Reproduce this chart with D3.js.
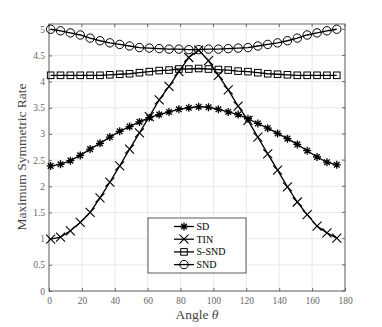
<!DOCTYPE html>
<html>
<head>
<meta charset="utf-8">
<script src="https://cdn.jsdelivr.net/npm/d3@7"></script>
<style>
  body { margin: 0; background: #fff; }
</style>
</head>
<body>
<svg id="chart" width="382" height="327"></svg>
<script>
// angles (degrees) at which each series is sampled
var angles = [1, 7, 13, 19, 25, 31, 37, 43, 49, 55, 61, 67, 73, 79, 85,
              91, 97, 103, 109, 115, 121, 127, 133, 139, 145, 151, 157, 163, 169, 175];

var sdVals = [2.39, 2.42, 2.49, 2.59, 2.71, 2.82, 2.94, 3.05, 3.14, 3.23, 3.31, 3.37, 3.42, 3.47, 3.50,
              3.52, 3.51, 3.47, 3.42, 3.37, 3.29, 3.20, 3.11, 3.01, 2.91, 2.80, 2.68, 2.56, 2.46, 2.41];
var tinVals = [0.99, 1.03, 1.15, 1.31, 1.50, 1.78, 2.08, 2.39, 2.71, 3.02, 3.33, 3.65, 3.91, 4.19, 4.46,
               4.60, 4.40, 4.12, 3.84, 3.53, 3.26, 2.94, 2.62, 2.31, 1.99, 1.70, 1.46, 1.24, 1.11, 1.01];
var ssndVals = [4.12, 4.12, 4.12, 4.12, 4.12, 4.12, 4.13, 4.14, 4.15, 4.17, 4.19, 4.21, 4.22, 4.24, 4.24,
                4.25, 4.24, 4.23, 4.22, 4.20, 4.19, 4.17, 4.15, 4.14, 4.13, 4.12, 4.12, 4.12, 4.12, 4.12];
var sndVals = [5.00, 4.97, 4.93, 4.89, 4.83, 4.78, 4.74, 4.71, 4.68, 4.65, 4.64, 4.63, 4.62, 4.62, 4.61,
               4.61, 4.62, 4.62, 4.63, 4.64, 4.65, 4.68, 4.71, 4.74, 4.78, 4.83, 4.89, 4.93, 4.97, 5.00];

var seriesNames = ['SD', 'TIN', 'S-SND', 'SND'];
var seriesMarks = ['star', 'cross', 'square', 'circle'];
var xTicks = [0, 20, 40, 60, 80, 100, 120, 140, 160, 180];
var yTicks = [0, 0.5, 1, 1.5, 2, 2.5, 3, 3.5, 4, 4.5, 5];

var FONT = '"Liberation Serif", "DejaVu Serif", serif';

var series = [sdVals, tinVals, ssndVals, sndVals].map(function(vals, i) {
	return {
		name: seriesNames[i],
		mark: seriesMarks[i],
		points: vals.map(function(v, j) { return {a: angles[j], v: v}; })
	};
});

var svg = d3.select('#chart');
var margin = {left: 49, right: 37, top: 24, bottom: 36};
var w = 382, h = 327;

var x = d3.scaleLinear().domain([0, 180]).range([margin.left, w - margin.right]);
var y = d3.scaleLinear().domain([0, 5.1]).range([h - margin.bottom, margin.top]);

// grid
var grid = svg.append('g').attr('stroke', '#e3e3e3').attr('stroke-width', 0.8);
xTicks.forEach(function(t) {
	grid.append('line').attr('x1', x(t)).attr('x2', x(t)).attr('y1', y(0)).attr('y2', y(5.1));
});
yTicks.forEach(function(t) {
	grid.append('line').attr('x1', x(0)).attr('x2', x(180)).attr('y1', y(t)).attr('y2', y(t));
});

// axes, ticks pointing inward
var xaxis = d3.axisBottom(x).tickValues(xTicks).tickSizeInner(-3).tickSizeOuter(0).tickPadding(6);
var yaxis = d3.axisLeft(y).tickValues(yTicks).tickSizeInner(-3).tickSizeOuter(0).tickPadding(4)
	.tickFormat(function(d) { return d; });

var gx = svg.append('g').attr('transform', 'translate(0,' + y(0) + ')').call(xaxis);
var gy = svg.append('g').attr('transform', 'translate(' + x(0) + ',0)').call(yaxis);
[gx, gy].forEach(function(g) {
	g.attr('font-family', FONT).attr('font-size', 9.5);
	g.select('.domain').remove();
	g.selectAll('line').attr('stroke', '#333').attr('stroke-width', 0.7);
	g.selectAll('text').attr('fill', '#666');
});

// top/right tick marks
xTicks.forEach(function(t) {
	svg.append('line').attr('x1', x(t)).attr('x2', x(t)).attr('y1', y(5.1)).attr('y2', y(5.1) + 3)
		.attr('stroke', '#333').attr('stroke-width', 0.7);
});
yTicks.forEach(function(t) {
	svg.append('line').attr('x1', x(180)).attr('x2', x(180) - 3).attr('y1', y(t)).attr('y2', y(t))
		.attr('stroke', '#333').attr('stroke-width', 0.7);
});

svg.append('rect')
	.attr('x', x(0)).attr('y', y(5.1))
	.attr('width', x(180) - x(0)).attr('height', y(0) - y(5.1))
	.attr('fill', 'none').attr('stroke', '#555').attr('stroke-width', 0.9);

// marker drawing
function drawMark(g, type, cx, cy) {
	if (type == 'circle') {
		g.append('circle').attr('cx', cx).attr('cy', cy).attr('r', 4.2)
			.attr('fill', 'none').attr('stroke', '#000').attr('stroke-width', 1);
	} else if (type == 'square') {
		g.append('rect').attr('x', cx - 3.3).attr('y', cy - 3.3).attr('width', 6.6).attr('height', 6.6)
			.attr('fill', 'none').attr('stroke', '#000').attr('stroke-width', 1);
	} else if (type == 'cross') {
		var s = 4.5;
		g.append('path').attr('d', 'M' + (cx - s) + ',' + (cy - s) + 'L' + (cx + s) + ',' + (cy + s) +
			'M' + (cx - s) + ',' + (cy + s) + 'L' + (cx + s) + ',' + (cy - s))
			.attr('stroke', '#000').attr('stroke-width', 1.1);
	} else {
		var r = 4;
		var d = '';
		for (var k = 0; k < 4; k++) {
			var ang = k * Math.PI / 4;
			d += 'M' + (cx - r * Math.cos(ang)) + ',' + (cy - r * Math.sin(ang)) +
				'L' + (cx + r * Math.cos(ang)) + ',' + (cy + r * Math.sin(ang));
		}
		g.append('path').attr('d', d).attr('stroke', '#000').attr('stroke-width', 1.3);
	}
}

var line = d3.line()
	.x(function(d) { return x(d.a); })
	.y(function(d) { return y(d.v); });

series.forEach(function(s) {
	var g = svg.append('g');
	g.append('path').datum(s.points)
		.attr('d', line)
		.attr('fill', 'none')
		.attr('stroke', '#000')
		.attr('stroke-width', 1.3);
	s.points.forEach(function(p) { drawMark(g, s.mark, x(p.a), y(p.v)); });
});

// legend
var lg = svg.append('g').attr('transform', 'translate(148,218)');
lg.append('rect').attr('width', 98).attr('height', 55)
	.attr('fill', '#fff').attr('stroke', '#333').attr('stroke-width', 0.8);
series.forEach(function(s, i) {
	var ly = 8.5 + i * 12.7;
	lg.append('line').attr('x1', 26).attr('x2', 46).attr('y1', ly).attr('y2', ly)
		.attr('stroke', '#000').attr('stroke-width', 1.3);
	drawMark(lg, s.mark, 36, ly);
	lg.append('text').attr('x', 48.5).attr('y', ly + 3.5)
		.attr('font-family', FONT)
		.attr('font-size', 10).attr('fill', '#000').text(s.name);
});

// axis labels
svg.append('text')
	.attr('transform', 'translate(26,157) rotate(-90)')
	.attr('text-anchor', 'middle')
	.attr('font-family', FONT)
	.attr('font-size', 13.5)
	.attr('fill', '#444')
	.text('Maximum Symmetric Rate');

var xl = svg.append('text')
	.attr('x', (x(0) + x(180)) / 2).attr('y', 319)
	.attr('text-anchor', 'middle')
	.attr('font-family', FONT)
	.attr('font-size', 13.5)
	.attr('fill', '#444');
xl.append('tspan').text('Angle ');
xl.append('tspan').attr('font-style', 'italic').text('θ');
</script>
</body>
</html>
